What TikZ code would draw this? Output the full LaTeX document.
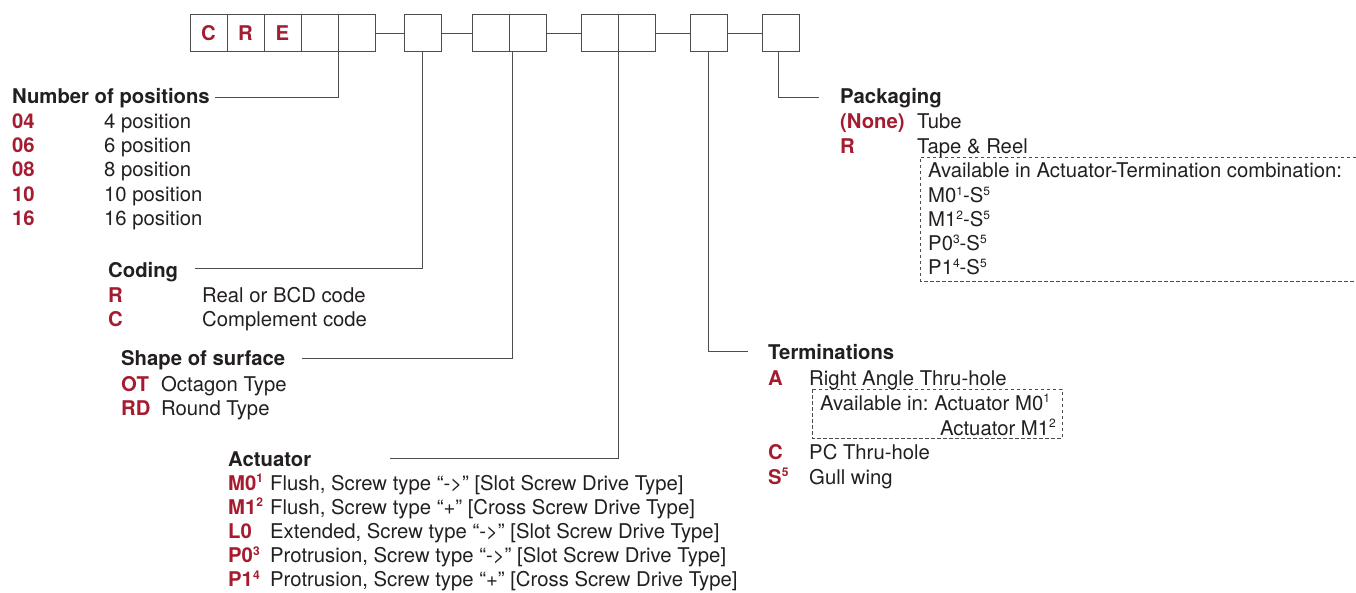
\documentclass[tikz,border=0pt]{standalone}
\usepackage{fontspec}
\setmainfont{TeX Gyre Heros}
\usetikzlibrary{positioning}

\definecolor{codered}{HTML}{A51C30}
\definecolor{txtgray}{HTML}{231F20}
\definecolor{linegray}{HTML}{4D4D4D}
\newcommand{\sps}[1]{\raisebox{0.36em}{\fontsize{12}{12}\selectfont #1}}
\frenchspacing

\begin{document}
\begin{tikzpicture}[x=1pt, y=-1pt, node distance=0pt,
		cell/.style={draw=linegray, line width=1pt, minimum width=37pt, minimum height=37pt, outer sep=0pt, inner sep=0pt, font=\fontsize{20.3}{24}\selectfont\bfseries, text=codered},
		link/.style={draw=linegray, line width=0.9pt},
		avail/.style={draw=linegray, line width=0.9pt, dash pattern=on 3.5pt off 2.5pt},
		txt/.style={anchor=base west, inner sep=0pt, text=txtgray, font=\fontsize{20.3}{24}\selectfont},
		head/.style={txt, font=\fontsize{20.3}{24}\selectfont\bfseries},
		code/.style={txt, text=codered, font=\fontsize{20.3}{24}\selectfont\bfseries}]
		\useasboundingbox (0,0) rectangle (1356,593);

		% part number boxes
		\node[cell] (b1) at (208.5,33) {C};
		\node[cell, right=of b1] (b2) {R};
		\node[cell, right=of b2] (b3) {E};
		\node[cell, right=of b3] (b4) {};
		\node[cell, right=of b4] (b5) {};
		\node[cell, right=29pt of b5] (b6) {};
		\node[cell, right=31pt of b6] (b7) {};
		\node[cell, right=of b7] (b8) {};
		\node[cell, right=35pt of b8] (b9) {};
		\node[cell, right=of b9] (b10) {};
		\node[cell, right=35pt of b10] (b11) {};
		\node[cell, right=35pt of b11] (b12) {};
		\draw[link] (b5) -- (b6);
		\draw[link] (b6) -- (b7);
		\draw[link] (b8) -- (b9);
		\draw[link] (b10) -- (b11);
		\draw[link] (b11) -- (b12);

		% number of positions
		\node[head] (npos) at (12,104) {Number of positions};
		\node[code] (n04) at (12,128.5) {04};
		\node[txt] (n04d) at (104,128.5) {4 position};
		\node[code] (n06) at (12,153) {06};
		\node[txt] (n06d) at (104,153) {6 position};
		\node[code] (n08) at (12,177) {08};
		\node[txt] (n08d) at (104,177) {8 position};
		\node[code] (n10) at (12,201.5) {10};
		\node[txt] (n10d) at (104,201.5) {10 position};
		\node[code] (n16) at (12,225.5) {16};
		\node[txt] (n16d) at (104,225.5) {16 position};
		\coordinate (nposend) at (215,97);
		\draw[link] (b4.south east) |- (nposend);

		% coding
		\node[head] (coding) at (108,277.5) {Coding};
		\node[code] (cR) at (108,302) {R};
		\node[txt] (cRd) at (202,302) {Real or BCD code};
		\node[code] (cC) at (108,326.5) {C};
		\node[txt] (cCd) at (202,326.5) {Complement code};
		\coordinate (codingend) at (195,268);
		\draw[link] (b6.south) |- (codingend);

		% shape of surface
		\node[head] (shape) at (121,365) {Shape of surface};
		\node[code] (sOT) at (121,391) {OT};
		\node[txt] (sOTd) at (161,391) {Octagon Type};
		\node[code] (sRD) at (121,415) {RD};
		\node[txt] (sRDd) at (161,415) {Round Type};
		\coordinate (shapeend) at (302,358);
		\draw[link] ([xshift=3pt]b7.south east) |- (shapeend);

		% actuator
		\node[head] (act) at (228,466) {Actuator};
		\node[code] (aM0) at (228,490) {M0\sps{1}};
		\node[txt] (aM0d) at (270,490) {Flush, Screw type “->” [Slot Screw Drive Type]};
		\node[code] (aM1) at (228,514) {M1\sps{2}};
		\node[txt] (aM1d) at (270,514) {Flush, Screw type “+” [Cross Screw Drive Type]};
		\node[code] (aL0) at (228,538) {L0};
		\node[txt] (aL0d) at (270,538) {Extended, Screw type “->” [Slot Screw Drive Type]};
		\node[code] (aP0) at (228,562.5) {P0\sps{3}};
		\node[txt] (aP0d) at (270,562.5) {Protrusion, Screw type “->” [Slot Screw Drive Type]};
		\node[code] (aP1) at (228,586.5) {P1\sps{4}};
		\node[txt] (aP1d) at (270,586.5) {Protrusion, Screw type “+” [Cross Screw Drive Type]};
		\coordinate (actend) at (390,458);
		\draw[link] (b9.south east) |- (actend);

		% terminations
		\node[head] (term) at (768,359) {Terminations};
		\node[code] (tA) at (768,385) {A};
		\node[txt] (tAd) at (809,385) {Right Angle Thru-hole};
		\node[txt] (tav1) at (820,410) {Available in: Actuator M0\sps{1}};
		\node[txt, anchor=base east] (tav2) at (1056,435) {Actuator M1\sps{2}};
		\node[code] (tC) at (768,459) {C};
		\node[txt] (tCd) at (809,459) {PC Thru-hole};
		\node[code] (tS) at (768,484) {S\sps{5}};
		\node[txt] (tSd) at (809,484) {Gull wing};
		\draw[avail] (812,389) rectangle (1062,438);
		\coordinate (termend) at (748,351);
		\draw[link] (b11.south) |- (termend);

		% packaging
		\node[head] (pack) at (840,104) {Packaging};
		\node[code] (pNone) at (840,129) {(None)};
		\node[txt] (pNoned) at (917,129) {Tube};
		\node[code] (pR) at (840,154) {R};
		\node[txt] (pRd) at (917,154) {Tape \& Reel};
		\node[txt] (pav) at (928,178) {Available in Actuator-Termination combination:};
		\node[txt] (pc1) at (928,202.5) {M0\sps{1}-S\sps{5}};
		\node[txt] (pc2) at (928,226.5) {M1\sps{2}-S\sps{5}};
		\node[txt] (pc3) at (928,251) {P0\sps{3}-S\sps{5}};
		\node[txt] (pc4) at (928,275) {P1\sps{4}-S\sps{5}};
		\draw[avail] (1356,157) -| (920,281) -- (1356,281);
		\coordinate (packend) at (819,97);
		\draw[link] ([xshift=-2pt]b12.south) |- (packend);
	\end{tikzpicture}
\end{document}
